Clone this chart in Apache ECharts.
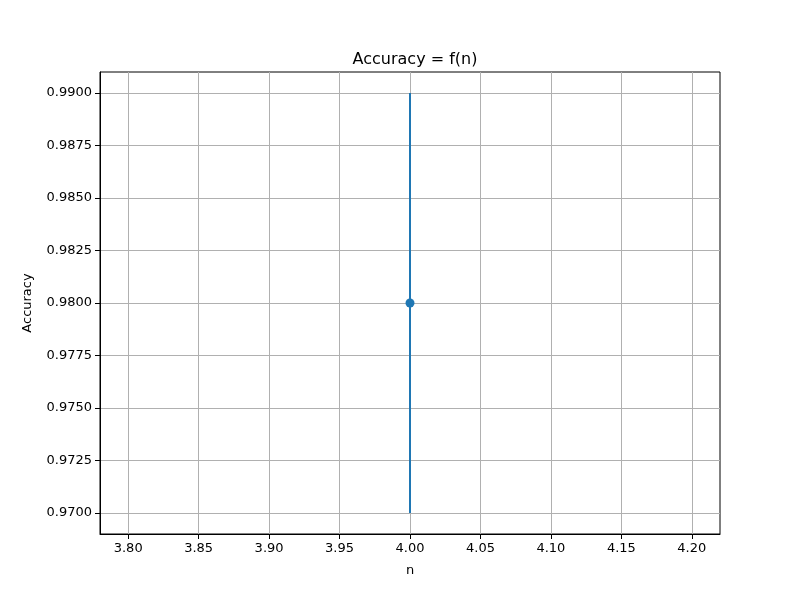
<!DOCTYPE html>
<html>
<head>
<meta charset="utf-8">
<script src="https://cdn.jsdelivr.net/npm/echarts@6/dist/echarts.min.js"></script>
<style>
  html, body { margin: 0; padding: 0; background: #fff; }
  #main { width: 800px; height: 600px; }
</style>
</head>
<body>
<div id="main"></div>
<script>
// data
const nValues = [4.0];
const accuracy = [0.98];
const accuracyErr = [0.01];

const xTicks = [3.80, 3.85, 3.90, 3.95, 4.00, 4.05, 4.10, 4.15, 4.20];
const yTicks = [0.9700, 0.9725, 0.9750, 0.9775, 0.9800, 0.9825, 0.9850, 0.9875, 0.9900];

const blue = '#1f77b4';
const font = 'DejaVu Sans';

const chart = echarts.init(document.getElementById('main'), null, { renderer: 'canvas' });

// one vertical segment per point for the error bars
const errSeries = nValues.map((n, i) => ({
  type: 'line',
  data: [[n, accuracy[i] - accuracyErr[i]], [n, accuracy[i] + accuracyErr[i]]],
  symbol: 'none',
  lineStyle: { color: blue, width: 2 },
  silent: true,
  z: 3
}));

const option = {
  animation: false,
  backgroundColor: '#fff',
  title: {
    text: 'Accuracy = f(n)',
    left: 410,
    top: 47,
    textAlign: 'center',
    textStyle: { fontFamily: font, fontSize: 16, fontWeight: 'normal', color: '#000' }
  },
  grid: {
    left: 100, right: 80, top: 72, bottom: 66,
    show: true, borderColor: '#000', borderWidth: 1, backgroundColor: 'transparent'
  },
  xAxis: {
    type: 'value',
    min: 3.78,
    max: 4.22,
    name: 'n',
    nameLocation: 'middle',
    nameGap: 30,
    nameTextStyle: { fontFamily: font, fontSize: 13, color: '#000' },
    axisLine: { show: true, onZero: false, lineStyle: { color: '#000', width: 1 } },
    axisTick: { show: true, inside: false, length: 5, lineStyle: { color: '#000' }, customValues: xTicks },
    axisLabel: {
      fontFamily: font, fontSize: 13, color: '#000', margin: 8,
      customValues: xTicks,
      formatter: v => v.toFixed(2)
    },
    splitLine: { show: true, lineStyle: { color: '#b0b0b0', width: 1 } }
  },
  yAxis: {
    type: 'value',
    min: 0.969,
    max: 0.991,
    name: 'Accuracy',
    nameLocation: 'middle',
    nameGap: 66,
    nameRotate: 90,
    nameTextStyle: { fontFamily: font, fontSize: 13, color: '#000' },
    axisLine: { show: true, onZero: false, lineStyle: { color: '#000', width: 1 } },
    axisTick: { show: true, inside: false, length: 5, lineStyle: { color: '#000' }, customValues: yTicks },
    axisLabel: {
      fontFamily: font, fontSize: 13, color: '#000', margin: 8,
      customValues: yTicks,
      formatter: v => v.toFixed(4)
    },
    splitLine: { show: true, lineStyle: { color: '#b0b0b0', width: 1 } }
  },
  series: [
    ...errSeries,
    {
      type: 'scatter',
      data: nValues.map((n, i) => [n, accuracy[i]]),
      symbol: 'circle',
      symbolSize: 9,
      itemStyle: { color: blue, opacity: 1 },
      z: 4
    }
  ]
};

chart.setOption(option);
</script>
</body>
</html>
